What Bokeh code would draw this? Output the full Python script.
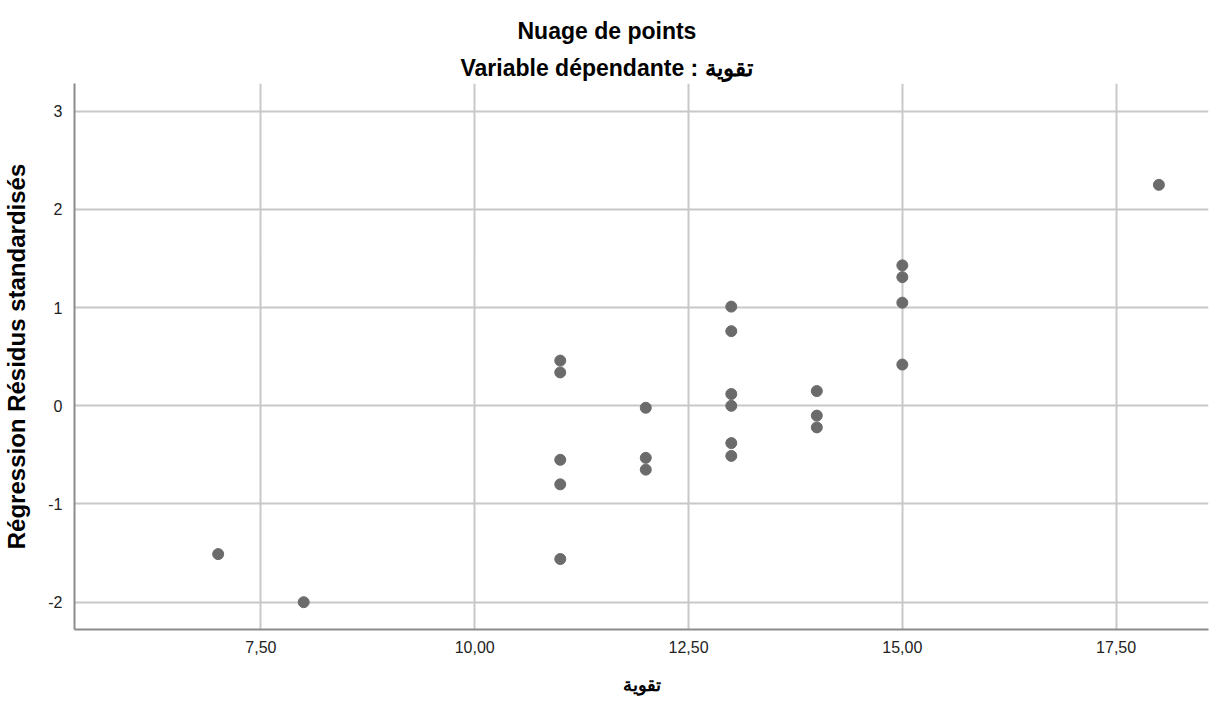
from bokeh.plotting import figure
from bokeh.models import FixedTicker, Title, Range1d
from bokeh.embed import file_html
from bokeh.resources import INLINE

# Data
x_vals = [7, 8, 11, 11, 11, 11, 11, 12, 12, 12, 13, 13, 13, 13, 13, 13, 14, 14, 14, 15, 15, 15, 15, 18]
resid = [-1.51, -2.00, 0.46, 0.34, -0.55, -0.80, -1.56, -0.02, -0.53, -0.65,
         1.01, 0.76, 0.12, 0.00, -0.38, -0.51, 0.15, -0.10, -0.22, 1.43, 1.31, 1.05, 0.42, 2.25]

x_ticks = [7.5, 10.0, 12.5, 15.0, 17.5]
x_tick_labels = ["7,50", "10,00", "12,50", "15,00", "17,50"]
y_ticks = [-2, -1, 0, 1, 2, 3]
y_tick_labels = ["-2", "-1", "0", "1", "2", "3"]

title_text = "Nuage de points"
subtitle_text = "Variable dépendante : تقوية"
x_label = "تقوية"
y_label = "Régression Résidus standardisés"

FONT = "Liberation Sans"

p = figure(width=1211, height=704, output_backend="svg", toolbar_location=None,
           x_range=Range1d(5.32, 18.58), y_range=Range1d(-2.278, 3.282),
           min_border_left=74, min_border_right=3, min_border_bottom=75, min_border_top=83)
p.outline_line_color = None
p.title.text = ""
p.title.visible = False

p.add_layout(Title(text=subtitle_text, align="left", offset=386, text_font=FONT,
                   text_font_size="23px", text_font_style="bold", text_color="#000000",
                   standoff=6), "above")
p.add_layout(Title(text=title_text, align="left", offset=443, text_font=FONT,
                   text_font_size="23px", text_font_style="bold", text_color="#000000",
                   standoff=11), "above")

p.scatter(x_vals, resid, size=11, color="#6b6b6b", line_color="#6b6b6b")

for ax in (p.xaxis[0], p.yaxis[0]):
    ax.axis_line_color = "#8c8c8c"
    ax.axis_line_width = 2
    ax.major_tick_line_color = None
    ax.minor_tick_line_color = None
    ax.major_label_text_font = FONT
    ax.major_label_text_font_size = "16px"
    ax.major_label_text_color = "#222222"
    ax.axis_label_text_font = FONT
    ax.axis_label_text_font_style = "bold"
    ax.axis_label_text_color = "#000000"

p.xaxis[0].ticker = FixedTicker(ticks=x_ticks)
p.xaxis[0].major_label_overrides = dict(zip(x_ticks, x_tick_labels))
p.xaxis[0].axis_label = x_label
p.xaxis[0].axis_label_text_font_size = "18px"
p.xaxis[0].major_label_standoff = 5
p.xaxis[0].axis_label_standoff = 19

p.yaxis[0].ticker = FixedTicker(ticks=y_ticks)
p.yaxis[0].major_label_overrides = dict(zip(y_ticks, y_tick_labels))
p.yaxis[0].axis_label = y_label
p.yaxis[0].axis_label_text_font_size = "24px"
p.yaxis[0].major_label_standoff = 6
p.yaxis[0].axis_label_standoff = 15

p.xgrid[0].ticker = FixedTicker(ticks=x_ticks)
p.ygrid[0].ticker = FixedTicker(ticks=y_ticks)
for g in (p.xgrid[0], p.ygrid[0]):
    g.grid_line_color = "#c8c8c8"
    g.grid_line_width = 2

open("out.html", "w").write(file_html(p, INLINE))
